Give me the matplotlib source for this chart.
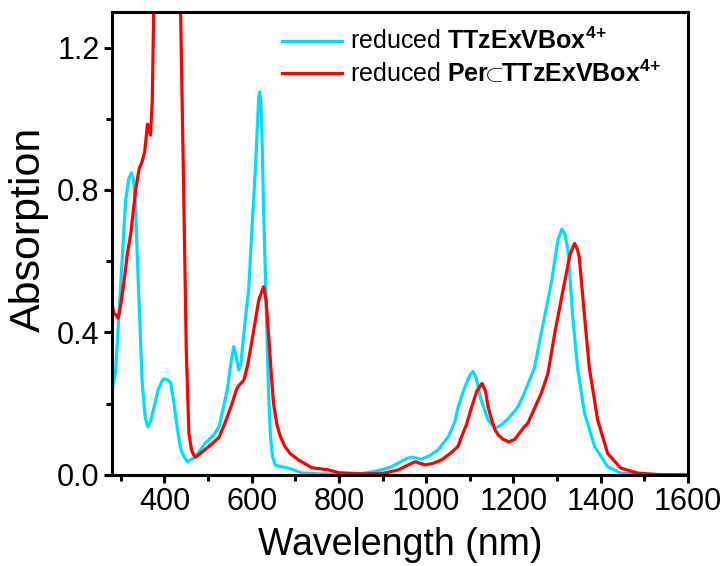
import matplotlib
matplotlib.use("Agg")
import matplotlib.pyplot as plt
from matplotlib.ticker import MultipleLocator, FormatStrFormatter

# ---- data ----
cyan_wl = [280, 288, 300, 311, 318, 324, 329, 333, 340, 349, 356, 362, 368, 376, 386, 397, 406, 414, 422,
           429, 436, 441, 452, 471, 494, 513, 525, 544, 553, 559, 565, 570, 575, 586, 593, 601, 608, 612,
           616, 618, 621, 624, 627, 631, 635, 639, 643, 648, 654, 670, 685, 700, 715, 750, 800, 850, 890,
           915, 936, 955, 966, 978, 989, 1008, 1027, 1051, 1066, 1073, 1088, 1100, 1107, 1114, 1119, 1126,
           1142, 1158, 1172, 1190, 1210, 1225, 1248, 1264, 1287, 1302, 1311, 1318, 1325, 1336, 1347, 1363,
           1386, 1416, 1446, 1500, 1600]
cyan_abs = [0.238, 0.29, 0.54, 0.77, 0.83, 0.848, 0.83, 0.77, 0.54, 0.26, 0.16, 0.135, 0.15, 0.19, 0.24,
            0.27, 0.268, 0.26, 0.2, 0.135, 0.08, 0.06, 0.037, 0.05, 0.09, 0.112, 0.135, 0.238, 0.32, 0.36,
            0.33, 0.295, 0.31, 0.444, 0.52, 0.70, 0.85, 0.95, 1.06, 1.075, 1.05, 0.93, 0.76, 0.58, 0.388,
            0.22, 0.107, 0.05, 0.028, 0.022, 0.019, 0.012, 0.005, 0.003, 0.002, 0.003, 0.012, 0.02, 0.033,
            0.046, 0.05, 0.047, 0.044, 0.054, 0.07, 0.107, 0.15, 0.19, 0.245, 0.28, 0.29, 0.275, 0.248, 0.21,
            0.154, 0.131, 0.14, 0.16, 0.19, 0.23, 0.30, 0.40, 0.54, 0.66, 0.69, 0.675, 0.63, 0.444, 0.30,
            0.173, 0.08, 0.023, 0.005, 0.001, 0.0]

red_wl = [280, 283, 288, 294, 300, 307, 315, 323, 334, 342, 349, 355, 361, 365, 368, 372, 376, 385, 400,
          415, 428, 437, 444, 450, 456, 462, 467, 471, 485, 502, 525, 540, 555, 565, 570, 582, 591, 601,
          616, 627, 633, 639, 645, 650, 658, 666, 676, 688, 707, 738, 776, 800, 850, 900, 936, 959, 975,
          997, 1015, 1035, 1055, 1073, 1081, 1092, 1104, 1116, 1128, 1136, 1142, 1150, 1158, 1165, 1176,
          1190, 1203, 1225, 1233, 1264, 1279, 1295, 1317, 1330, 1340, 1346, 1351, 1363, 1374, 1393, 1416,
          1446, 1485, 1530, 1600]
red_abs = [0.486, 0.455, 0.45, 0.44, 0.48, 0.54, 0.62, 0.68, 0.80, 0.86, 0.88, 0.91, 0.985, 0.97, 0.954,
           1.05, 1.35, 2.0, 2.6, 2.6, 2.0, 1.3, 0.8, 0.35, 0.118, 0.07, 0.056, 0.05, 0.063, 0.08, 0.105,
           0.15, 0.2, 0.24, 0.25, 0.266, 0.31, 0.38, 0.49, 0.528, 0.49, 0.388, 0.28, 0.20, 0.14, 0.107,
           0.08, 0.06, 0.042, 0.02, 0.014, 0.006, 0.003, 0.004, 0.014, 0.028, 0.037, 0.028, 0.032, 0.042,
           0.06, 0.08, 0.107, 0.14, 0.19, 0.235, 0.257, 0.235, 0.19, 0.155, 0.126, 0.112, 0.10, 0.093, 0.10,
           0.135, 0.145, 0.23, 0.285, 0.40, 0.54, 0.62, 0.65, 0.635, 0.61, 0.444, 0.30, 0.154, 0.06, 0.019,
           0.005, 0.001, 0.0]

labels = [r"reduced $\mathbf{TTzExVBox}^{\mathbf{4\!+}}$",
          r"reduced $\mathbf{Per}\!\!\subset\!\!\mathbf{TTzExVBox}^{\mathbf{4\!+}}$"]
colors = ["#00DDFF", "#FF0000"]

plt.rcParams['font.family'] = ['Liberation Sans', 'DejaVu Sans']
plt.rcParams['mathtext.fontset'] = 'custom'
plt.rcParams['mathtext.rm'] = 'Liberation Sans'
plt.rcParams['mathtext.bf'] = 'Liberation Sans:bold'
plt.rcParams['mathtext.it'] = 'Liberation Sans:italic'
plt.rcParams['mathtext.sf'] = 'Liberation Sans'

fig = plt.figure(figsize=(7.28, 5.66), dpi=100)
ax = fig.add_axes([0.154, 0.161, 0.791, 0.818])

ax.plot(cyan_wl, cyan_abs, color=colors[0], lw=2.3, label=labels[0])
ax.plot(red_wl, red_abs, color=colors[1], lw=2.3, label=labels[1])

ax.set_xlim(280, 1600)
ax.set_ylim(0, 1.3)
ax.xaxis.set_major_locator(MultipleLocator(200))
ax.xaxis.set_minor_locator(MultipleLocator(100))
ax.yaxis.set_major_locator(MultipleLocator(0.4))
ax.yaxis.set_minor_locator(MultipleLocator(0.2))
ax.yaxis.set_major_formatter(FormatStrFormatter('%.1f'))
for s in ax.spines.values():
    s.set_linewidth(2.2)
ax.tick_params(which='major', direction='out', length=6, width=2.2, labelsize=22, pad=3)
ax.tick_params(which='minor', direction='out', length=4, width=2.2)
ax.set_xlabel("Wavelength (nm)", fontsize=27, labelpad=7)
ax.set_ylabel("Absorption", fontsize=31)
ax.yaxis.set_label_coords(-0.11, 0.53)

leg = ax.legend(loc='upper left', bbox_to_anchor=(0.295, 0.965), frameon=False, fontsize=18,
                handlelength=2.4, handletextpad=0.32, labelspacing=0.2, borderaxespad=0.0,
                borderpad=0.0)

fig.savefig("out.png", dpi=100)
